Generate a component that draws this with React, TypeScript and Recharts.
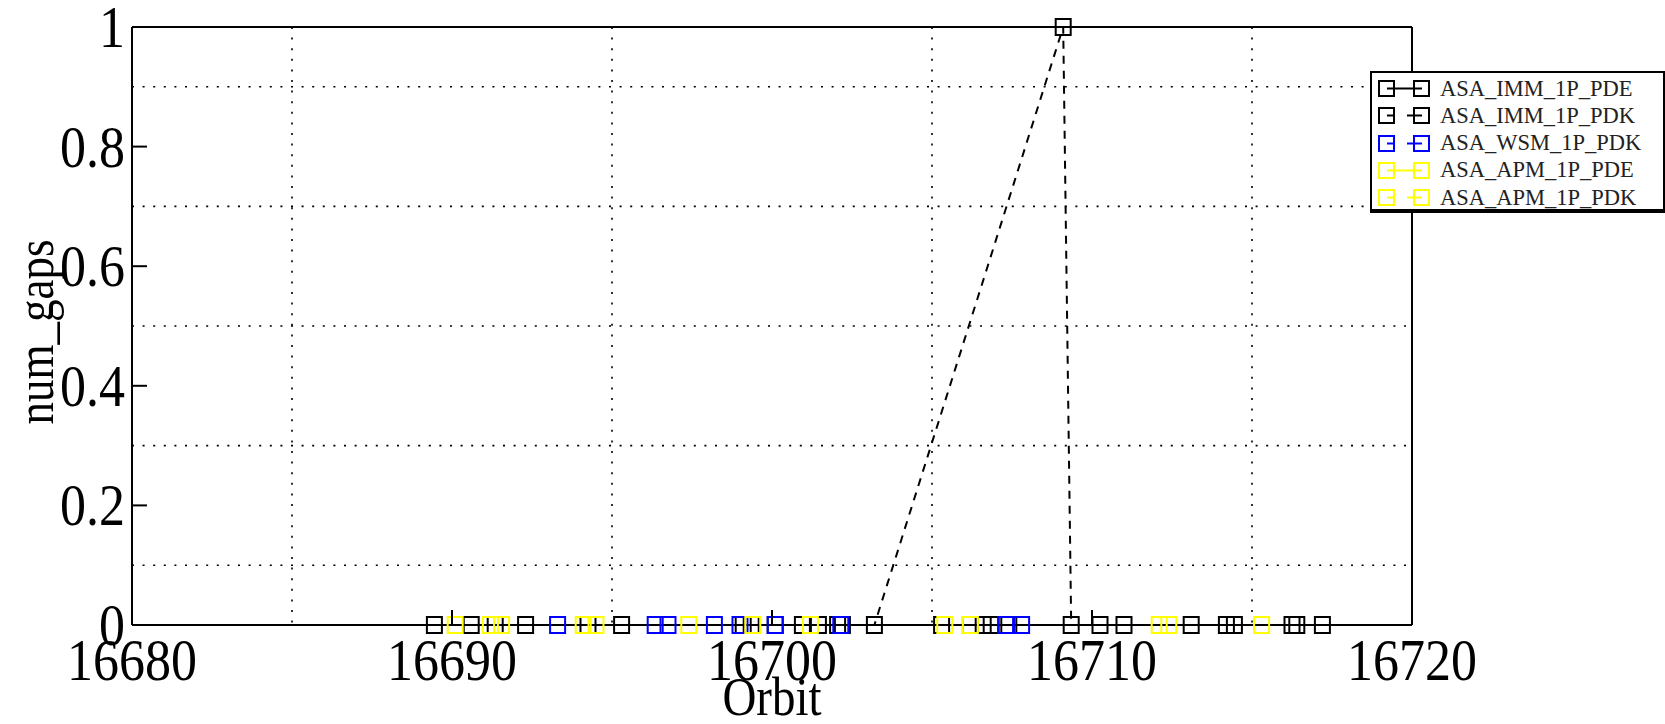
import React from 'react';
import { LineChart, Line, XAxis, YAxis, CartesianGrid } from 'recharts';

const FONT = '"Liberation Serif", "Times New Roman", serif';
const SY = 1.15; // the source text is a bit taller than it is wide

const xTicks = [16680, 16690, 16700, 16710, 16720];
const yTicks = [0, 0.2, 0.4, 0.6, 0.8, 1];
const innerXTicks = [16690, 16700, 16710];
const innerYTicks = [0.2, 0.4, 0.6, 0.8];
const xGridValues = [16685, 16695, 16705, 16715];
const yGridValues = [0.1, 0.3, 0.5, 0.7, 0.9];

const immPdeOrbit = [16689.45, 16690.6, 16692.3, 16695.3, 16699.1, 16700.1, 16700.95, 16702.05, 16705.3, 16706.2, 16706.6, 16706.85, 16707.4, 16710.25, 16711.0, 16713.1, 16714.2, 16716.25, 16717.2];
const immPdeGaps = [0, 0, 0, 0, 0, 0, 0, 0, 0, 0, 0, 0, 0, 0, 0, 0, 0, 0, 0];
const immPdkOrbit = [16691.35, 16694.25, 16699.35, 16701.45, 16702.2, 16703.2, 16709.1, 16709.35, 16714.45, 16716.4];
const immPdkGaps = [0, 0, 0, 0, 0, 0, 1, 0, 0, 0];
const wsmPdkOrbit = [16693.3, 16696.35, 16696.75, 16698.2, 16699.0, 16700.1, 16702.15, 16707.3, 16707.8];
const wsmPdkGaps = [0, 0, 0, 0, 0, 0, 0, 0, 0];
const apmPdeOrbit = [16690.1, 16691.2, 16694.1, 16697.4, 16701.2, 16705.4, 16712.1];
const apmPdeGaps = [0, 0, 0, 0, 0, 0, 0];
const apmPdkOrbit = [16691.55, 16694.5, 16699.4, 16706.2, 16712.4, 16715.3];
const apmPdkGaps = [0, 0, 0, 0, 0, 0];

type Pt = { orbit: number; gaps: number };
const zip = (o: number[], g: number[]): Pt[] => o.map((orbit, i) => ({ orbit, gaps: g[i] }));

const series = [
  { name: 'ASA_IMM_1P_PDE', color: '#000000', dashed: false, data: zip(immPdeOrbit, immPdeGaps) },
  { name: 'ASA_IMM_1P_PDK', color: '#000000', dashed: true, data: zip(immPdkOrbit, immPdkGaps) },
  { name: 'ASA_WSM_1P_PDK', color: '#0000ff', dashed: true, data: zip(wsmPdkOrbit, wsmPdkGaps) },
  { name: 'ASA_APM_1P_PDE', color: '#ffff00', dashed: false, data: zip(apmPdeOrbit, apmPdeGaps) },
  { name: 'ASA_APM_1P_PDK', color: '#ffff00', dashed: true, data: zip(apmPdkOrbit, apmPdkGaps) },
];

const squareDot = (color: string) => (p: any) => {
  if (p.cx == null || p.cy == null) return <g key={`e-${p.index}`} />;
  return (
    <rect key={`d-${p.index}`} x={p.cx - 7.5} y={p.cy - 8} width={15} height={16}
      fill="none" stroke={color} strokeWidth={2} />
  );
};

// bottom axis: inward tick + label under the axis
const BottomTick = (p: any) => (
  <g>
    {p.payload.value > 16680 && p.payload.value < 16720 && (
      <line x1={p.x} x2={p.x} y1={p.y} y2={p.y - 15} stroke="#000" strokeWidth={2} />
    )}
    <text transform={`translate(${p.x},${p.y + 55}) scale(1,${SY})`} textAnchor="middle"
      fontFamily={FONT} fontSize={52} fill="#000">{p.payload.value}</text>
  </g>
);

const LeftTick = (p: any) => (
  <g>
    {p.payload.value > 0 && p.payload.value < 1 && (
      <line x1={p.x} x2={p.x + 15} y1={p.y} y2={p.y} stroke="#000" strokeWidth={2} />
    )}
    <text transform={`translate(${p.x - 7},${p.y + 20}) scale(1,${SY})`} textAnchor="end"
      fontFamily={FONT} fontSize={52} fill="#000">{p.payload.value}</text>
  </g>
);

const TopTick = (p: any) => (
  <line x1={p.x} x2={p.x} y1={p.y} y2={p.y + 15} stroke="#000" strokeWidth={2} />
);

const RightTick = (p: any) => (
  <line x1={p.x} x2={p.x - 15} y1={p.y} y2={p.y} stroke="#000" strokeWidth={2} />
);

const OrbitTitle = (p: any) => {
  const vb = p.viewBox || {};
  return (
    <text transform={`translate(${vb.x + vb.width / 2},${vb.y + 90}) scale(1,${SY})`}
      textAnchor="middle" fontFamily={FONT} fontSize={47} fill="#000">Orbit</text>
  );
};

const GapsTitle = (p: any) => {
  const vb = p.viewBox || {};
  return (
    <text transform={`translate(53,${vb.y + vb.height / 2 + 6}) scale(1.15,1) rotate(-90)`}
      textAnchor="middle" fontFamily={FONT} fontSize={45} fill="#000">num_gaps</text>
  );
};

const LegendBox = () => (
  <div style={{
    position: 'absolute', left: 1370, top: 71, width: 291, height: 136,
    border: '2px solid #000', borderBottomWidth: 4, background: '#fff', boxSizing: 'content-box',
  }}>
    {series.map((s, i) => (
      <div key={s.name} style={{ position: 'absolute', left: 0, top: 2 + i * 27.3, height: 27, display: 'flex', alignItems: 'center' }}>
        <svg width={66} height={27} style={{ display: 'block' }}>
          {s.dashed ? (
            <g stroke={s.color} strokeWidth={2}>
              <line x1={15} x2={22} y1={13.5} y2={13.5} />
              <line x1={35} x2={50} y1={13.5} y2={13.5} />
            </g>
          ) : (
            <line x1={15} x2={50} y1={13.5} y2={13.5} stroke={s.color} strokeWidth={2} />
          )}
          <rect x={7} y={6} width={15} height={15} fill="none" stroke={s.color} strokeWidth={2} />
          <rect x={42} y={6} width={15} height={15} fill="none" stroke={s.color} strokeWidth={2} />
        </svg>
        <span style={{ fontFamily: FONT, fontSize: 22.5, color: '#222', whiteSpace: 'nowrap', marginLeft: 2 }}>{s.name}</span>
      </div>
    ))}
  </div>
);

export default function App() {
  return (
    <div style={{ position: 'absolute', left: 0, top: 0, width: 1665, height: 724, background: '#fff' }}>
      <LineChart width={1665} height={724} margin={{ top: 26, right: 252, bottom: 39, left: 72 }}>
        <CartesianGrid horizontalValues={yGridValues} verticalValues={xGridValues}
          stroke="#000" strokeWidth={1.6} strokeDasharray="2 8.6" />
        {series.map((s) => (
          <Line key={s.name} data={s.data} dataKey="gaps" name={s.name} type="linear"
            stroke={s.color} strokeWidth={2} strokeDasharray={s.dashed ? '8 7' : undefined}
            dot={squareDot(s.color)} activeDot={false} isAnimationActive={false} />
        ))}
        <XAxis dataKey="orbit" type="number" domain={[16680, 16720]} ticks={xTicks} interval={0}
          height={60} tickSize={0} tickMargin={0} tickLine={false} tick={<BottomTick />}
          axisLine={{ stroke: '#000', strokeWidth: 2 }} label={OrbitTitle} />
        <XAxis xAxisId="top" orientation="top" type="number" domain={[16680, 16720]} ticks={innerXTicks}
          interval={0} height={1} tickSize={0} tickMargin={0} tickLine={false} tick={<TopTick />}
          axisLine={{ stroke: '#000', strokeWidth: 2 }} />
        <YAxis type="number" domain={[0, 1]} ticks={yTicks} interval={0} width={60}
          tickSize={0} tickMargin={0} tickLine={false} tick={<LeftTick />}
          axisLine={{ stroke: '#000', strokeWidth: 2 }} label={GapsTitle} />
        <YAxis yAxisId="right" orientation="right" type="number" domain={[0, 1]} ticks={innerYTicks}
          interval={0} width={1} tickSize={0} tickMargin={0} tickLine={false} tick={<RightTick />}
          axisLine={{ stroke: '#000', strokeWidth: 2 }} />
      </LineChart>
      <LegendBox />
    </div>
  );
}
